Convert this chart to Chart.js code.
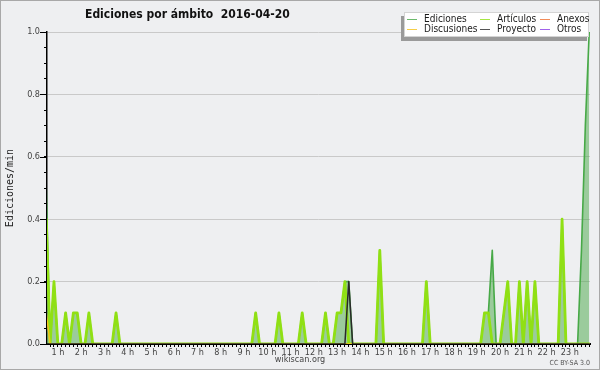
<!DOCTYPE html>
<html>
<head>
<meta charset="utf-8">
<script src="https://cdn.jsdelivr.net/npm/chart.js"></script>
<style>
  html, body { margin: 0; padding: 0; background: #eeeff1; }
  #wrap { width: 598px; height: 368px; border: 1px solid #a8a8a8; background: #eeeff1; }
  canvas { display: block; }
</style>
</head>
<body>
<div id="wrap"><canvas id="edits" width="598" height="368"></canvas></div>
<script>
// minutes since midnight, 10 min bins (zeros between spikes left out)
var times = [
  30, 40, 50, 60, 70, 80, 90, 100, 110, 120, 130, 140, 150,
  200, 210, 220, 560, 570, 580, 620, 630, 640, 680, 690, 700,
  740, 750, 760, 770, 780, 790, 800, 810, 820, 880, 890, 900,
  1000, 1010, 1020, 1150, 1160, 1170, 1180, 1190, 1200, 1210, 1220, 1230,
  1240, 1250, 1260, 1270, 1280, 1290, 1300, 1350, 1360, 1370,
  1400, 1410, 1420, 1430
];
// edits per minute
var ediciones = [
  0.5, 0, 0.2, 0, 0, 0.1, 0, 0.1, 0.1, 0, 0, 0.1, 0,
  0, 0.1, 0, 0, 0.1, 0, 0, 0.1, 0, 0, 0.1, 0,
  0, 0.1, 0, 0, 0.1, 0.1, 0.2, 0.2, 0, 0, 0.3, 0,
  0, 0.2, 0, 0, 0.1, 0.1, 0.3, 0, 0, 0.1, 0.2, 0,
  0, 0.2, 0, 0.2, 0, 0.2, 0, 0, 0.4, 0,
  0, 0.3, 0.7, 1.0
];
var articulos = [
  0.4, 0, 0.2, 0, 0, 0.1, 0, 0.1, 0.1, 0, 0, 0.1, 0,
  0, 0.1, 0, 0, 0.1, 0, 0, 0.1, 0, 0, 0.1, 0,
  0, 0.1, 0, 0, 0.1, 0.1, 0.2, 0, 0, 0, 0.3, 0,
  0, 0.2, 0, 0, 0.1, 0.1, 0, 0, 0, 0.1, 0.2, 0,
  0, 0.2, 0, 0.2, 0, 0.2, 0, 0, 0.4, 0,
  0, 0, 0, 0
];
var discusiones = [
  0.1, 0, 0, 0, 0, 0, 0, 0, 0, 0, 0, 0, 0,
  0, 0, 0, 0, 0, 0, 0, 0, 0, 0, 0, 0,
  0, 0, 0, 0, 0, 0, 0, 0, 0, 0, 0, 0,
  0, 0, 0, 0, 0, 0, 0, 0, 0, 0, 0, 0,
  0, 0, 0, 0, 0, 0, 0, 0, 0, 0,
  0, 0, 0, 0
];
var proyecto = [
  0, 0, 0, 0, 0, 0, 0, 0, 0, 0, 0, 0, 0,
  0, 0, 0, 0, 0, 0, 0, 0, 0, 0, 0, 0,
  0, 0, 0, 0, 0, 0, 0, 0.2, 0, 0, 0, 0,
  0, 0, 0, 0, 0, 0, 0, 0, 0, 0, 0, 0,
  0, 0, 0, 0, 0, 0, 0, 0, 0, 0,
  0, 0, 0, 0
];
var anexos = [];
var otros = [];

var condensed = "'DejaVu Sans Condensed', 'DejaVu Sans', sans-serif";

function pts(values) {
  return values.map(function (v, i) { return { x: times[i], y: v }; });
}

// title, legend box, footer texts, long major ticks on y
var decor = {
  id: 'decor',
  afterDraw: function (chart) {
    var ctx = chart.ctx;
    var y = chart.scales.y;
    ctx.save();

    ctx.strokeStyle = '#000';
    ctx.lineWidth = 1;
    for (var v = 0; v <= 1.0001; v += 0.2) {
      var py = Math.round(y.getPixelForValue(v)) + 0.5;
      ctx.beginPath();
      ctx.moveTo(y.right - 7, py);
      ctx.lineTo(y.right, py);
      ctx.stroke();
    }

    ctx.fillStyle = '#111';
    ctx.font = 'bold 12px ' + condensed;
    ctx.textBaseline = 'alphabetic';
    ctx.fillText('Ediciones por \u00e1mbito  2016-04-20', 84, 17);

    // legend
    ctx.fillStyle = '#9a9a9a';
    ctx.fillRect(400, 15, 186, 25);
    ctx.fillStyle = '#ffffff';
    ctx.fillRect(403, 11, 185, 25);
    ctx.strokeStyle = '#d4d4d4';
    ctx.strokeRect(403.5, 11.5, 184, 24);

    var cols = [406, 479, 539];
    var rows = [18.5, 28.5];
    var ds = chart.data.datasets;
    ctx.font = '10px ' + condensed;
    ctx.textBaseline = 'middle';
    ds.forEach(function (d, n) {
      var cx = cols[n % 3], cy = rows[Math.floor(n / 3)];
      ctx.globalAlpha = 0.8;
      ctx.strokeStyle = d.borderColor;
      ctx.lineWidth = 1;
      ctx.beginPath();
      ctx.moveTo(cx, cy);
      ctx.lineTo(cx + 10, cy);
      ctx.stroke();
      ctx.globalAlpha = 1;
      ctx.fillStyle = '#1a1a1a';
      ctx.fillText(d.label, cx + 17, cy);
    });

    ctx.textAlign = 'center';
    ctx.fillStyle = '#444';
    ctx.font = '9px ' + condensed;
    ctx.fillText('wikiscan.org', 299, 359);

    ctx.fillStyle = '#555';
    ctx.font = '7px ' + condensed;
    ctx.textAlign = 'right';
    ctx.textBaseline = 'alphabetic';
    ctx.fillText('CC BY-SA 3.0', 589, 364);
    ctx.restore();
  }
};

new Chart(document.getElementById('edits'), {
  type: 'line',
  data: {
    datasets: [
      { label: 'Ediciones', data: pts(ediciones), borderColor: '#47a947', borderWidth: 1.6,
        backgroundColor: 'rgba(72,168,72,0.5)', fill: 'origin', order: 10 },
      { label: 'Art\u00edculos', data: pts(articulos), borderColor: '#90e014', borderWidth: 2.8,
        fill: false, order: 5 },
      { label: 'Anexos', data: anexos, borderColor: '#ef6f2f', borderWidth: 1.5, fill: false, order: 4 },
      { label: 'Discusiones', data: pts(discusiones), borderColor: '#f4c21a', borderWidth: 1.5,
        fill: false, order: 3 },
      { label: 'Proyecto', data: pts(proyecto), borderColor: '#2a2a2a', borderWidth: 1.5,
        fill: false, order: 2 },
      { label: 'Otros', data: otros, borderColor: '#8a3ce6', borderWidth: 1.5, fill: false, order: 1 }
    ]
  },
  options: {
    responsive: false,
    animation: false,
    elements: {
      point: { radius: 0 },
      line: { tension: 0, borderJoinStyle: 'round', borderCapStyle: 'round' }
    },
    layout: { padding: { top: 31, right: 9, left: 0, bottom: 0 } },
    plugins: {
      legend: { display: false },
      title: { display: false },
      tooltip: { enabled: false }
    },
    scales: {
      x: {
        type: 'linear',
        min: 32,
        max: 1432,
        afterBuildTicks: function (scale) {
          var t = [];
          for (var v = 40; v <= 1430; v += 10) t.push({ value: v });
          scale.ticks = t;
        },
        afterFit: function (scale) { scale.height = 25; },
        border: { color: '#000', width: 2 },
        grid: { drawOnChartArea: false, tickLength: 3, tickColor: '#000', tickWidth: 1 },
        ticks: {
          autoSkip: false,
          maxRotation: 0,
          minRotation: 0,
          padding: 0,
          color: '#444',
          font: { family: condensed, size: 9 },
          callback: function (v) { return v % 60 === 0 ? (v / 60) + ' h' : ''; }
        }
      },
      y: {
        min: 0,
        max: 1,
        afterFit: function (scale) { scale.width = 46; },
        border: { color: '#000', width: 1.5 },
        grid: {
          tickLength: 3,
          tickColor: '#000',
          color: function (c) {
            var v = c.tick ? c.tick.value : 0;
            return Math.abs(v * 5 - Math.round(v * 5)) < 1e-6 ? '#c9c9c9' : 'rgba(0,0,0,0)';
          }
        },
        ticks: {
          stepSize: 0.05,
          autoSkip: false,
          padding: 4,
          color: '#444',
          font: { family: condensed, size: 9 },
          callback: function (v) {
            return Math.abs(v * 5 - Math.round(v * 5)) < 1e-6 ? v.toFixed(1) : '';
          }
        },
        title: {
          display: true,
          text: 'Ediciones/min',
          color: '#222',
          font: { family: "'DejaVu Sans Mono', monospace", size: 10 },
          padding: { top: 3, bottom: 0 }
        }
      }
    }
  },
  plugins: [decor]
});
</script>
</body>
</html>
